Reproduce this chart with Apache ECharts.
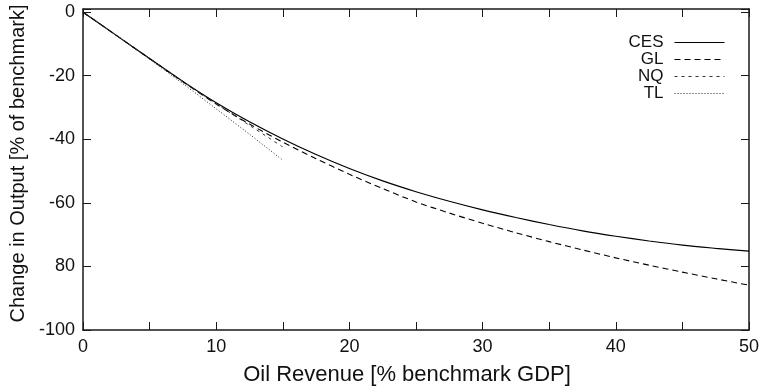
<!DOCTYPE html>
<html>
<head>
<meta charset="utf-8">
<script src="https://cdn.jsdelivr.net/npm/echarts@6/dist/echarts.min.js"></script>
<style>
html,body{margin:0;padding:0;background:#fff;}
#chart{width:762px;height:391px;}
</style>
</head>
<body>
<div id="chart"></div>
<script>
// Oil revenue (% of benchmark GDP)
var xLong = [0, 2.5, 5, 7.5, 10, 12.5, 15, 17.5, 20, 22.5, 25, 27.5, 30, 32.5, 35, 37.5, 40, 42.5, 45, 47.5, 50];
var xShort = [0, 2.5, 5, 7.5, 10, 12.5, 15];
// Change in output (% of benchmark)
var cesValues = [0, -7.3, -14.6, -21.8, -28.5, -34.5, -39.9, -44.8, -49.2, -53.1, -56.5, -59.5, -62.2, -64.6, -66.8, -68.8, -70.5, -72.0, -73.3, -74.3, -75.2];
var glValues  = [0, -7.3, -14.6, -21.9, -28.9, -35.2, -40.9, -46.1, -51.0, -55.5, -59.7, -63.2, -66.4, -69.4, -72.2, -74.8, -77.3, -79.6, -81.8, -83.9, -85.9];
var nqValues  = [0, -7.3, -14.6, -21.8, -28.8, -35.6, -42.4];
var tlValues  = [0, -7.3, -14.8, -22.5, -30.4, -38.4, -46.6];
var seriesNames = ['CES', 'GL', 'NQ', 'TL'];
// tick labels as printed in the figure
var xTickValues = [0, 10, 20, 30, 40, 50];
var xTickLabels = ['0', '10', '20', '30', '40', '50'];
var yTickValues = [0, -20, -40, -60, -80, -100];
var yTickLabels = ['0', '-20', '-40', '-60', '80', '-100'];

function pairs(xs, ys) { return xs.map(function (x, i) { return [x, ys[i]]; }); }

var FONT = '"Liberation Sans", Arial, Helvetica, sans-serif';
var AXIS_COLOR = '#1a1a1a';
var TEXT_COLOR = '#111';

var chart = echarts.init(document.getElementById('chart'), null, {renderer: 'canvas'});

var baseX = {
  type: 'value', min: 0, max: 50, interval: 5,
  axisLine: {show: true, onZero: false, lineStyle: {color: AXIS_COLOR, width: 1.5}},
  axisTick: {show: true, inside: true, length: 8, lineStyle: {color: AXIS_COLOR, width: 1}},
  splitLine: {show: false}
};
var baseY = {
  type: 'value', min: -100, max: 1, interval: 20,
  axisLine: {show: true, onZero: false, lineStyle: {color: AXIS_COLOR, width: 1.5}},
  axisTick: {show: true, inside: true, length: 8, lineStyle: {color: AXIS_COLOR, width: 1}},
  splitLine: {show: false}
};

function lineSeries(name, xs, ys, color, width, type) {
  return {
    name: name, type: 'line', data: pairs(xs, ys),
    smooth: 0.3, symbol: 'none', showSymbol: false,
    lineStyle: {color: color, width: width, type: type},
    itemStyle: {color: color}
  };
}

var option = {
  animation: false,
  backgroundColor: '#fff',
  grid: {left: 83, right: 13, top: 9, bottom: 61, containLabel: false},
  legend: {
    orient: 'vertical',
    right: 32, top: 29,
    align: 'right',
    itemWidth: 50, itemHeight: 10, itemGap: 0,
    data: seriesNames,
    itemStyle: {opacity: 0},
    lineStyle: {width: 1},
    textStyle: {fontFamily: FONT, fontSize: 17, color: TEXT_COLOR, width: 45, lineHeight: 16.7, padding: [0, 6, 0, 0]}
  },
  xAxis: [
    Object.assign({}, baseX, {
      position: 'bottom',
      name: 'Oil Revenue [% benchmark GDP]', nameLocation: 'middle', nameGap: 34,
      nameTextStyle: {fontFamily: FONT, fontSize: 22, color: TEXT_COLOR, padding: [0, 18, 0, 0]},
      axisLabel: {
        show: true, margin: 8, fontFamily: FONT, fontSize: 18, color: TEXT_COLOR,
        formatter: function (v) { var i = xTickValues.indexOf(v); return i >= 0 ? xTickLabels[i] : ''; }
      }
    }),
    Object.assign({}, baseX, {position: 'top', axisLabel: {show: false}})
  ],
  yAxis: [
    Object.assign({}, baseY, {
      position: 'left',
      name: 'Change in Output [% of benchmark]', nameLocation: 'middle', nameGap: 54,
      nameTextStyle: {fontFamily: FONT, fontSize: 20, color: TEXT_COLOR, padding: [0, 0, 0, 12]},
      axisLabel: {
        show: true, margin: 8, fontFamily: FONT, fontSize: 18, color: TEXT_COLOR,
        formatter: function (v) { var i = yTickValues.indexOf(v); return i >= 0 ? yTickLabels[i] : ''; }
      }
    }),
    Object.assign({}, baseY, {position: 'right', axisLabel: {show: false}})
  ],
  series: [
    lineSeries('CES', xLong, cesValues, '#000', 1.2, 'solid'),
    lineSeries('GL', xLong, glValues, '#000', 1.1, [6, 4]),
    lineSeries('NQ', xShort, nqValues, '#333', 1, [3, 4]),
    lineSeries('TL', xShort, tlValues, '#222', 1, [1, 2])
  ]
};
chart.setOption(option);
</script>
</body>
</html>
